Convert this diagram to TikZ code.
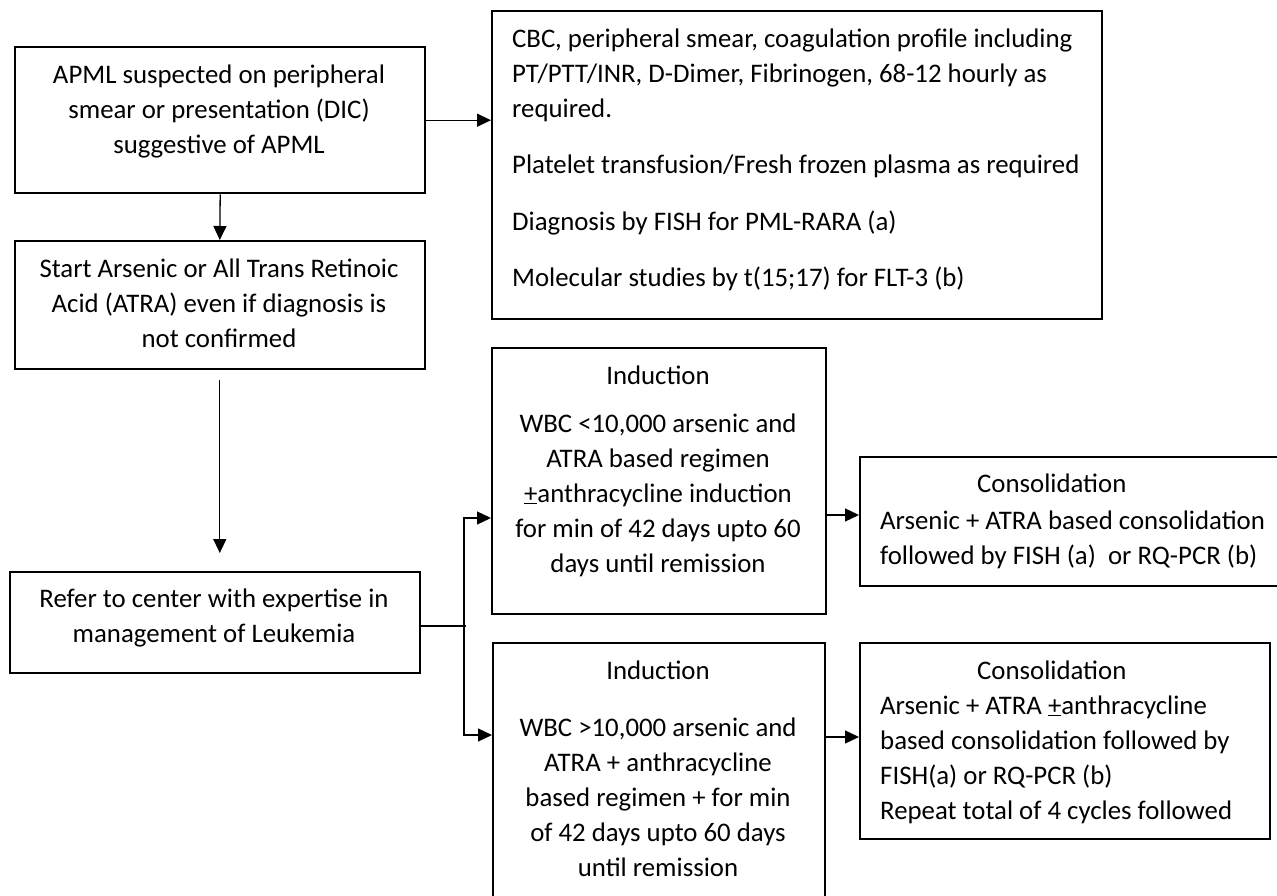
\documentclass[tikz,border=0pt]{standalone}
\usepackage{fontspec}
\setmainfont{Carlito}
\usetikzlibrary{arrows.meta}
\begin{document}
\begin{tikzpicture}[x=1pt,y=-1pt,
  box/.style={draw=black, line width=1.6pt, inner sep=0pt, anchor=north west},
  thickbox/.style={box, line width=2.4pt},
  txt/.style={inner sep=0pt, align=center, font=\fontsize{26.8}{35}\selectfont},
  ltxt/.style={inner sep=0pt, align=left, anchor=north west, font=\fontsize{26.8}{35}\selectfont},
  arr/.style={line width=1.3pt, -{Triangle[length=14pt,width=13pt]}},
  ln/.style={line width=1.3pt}]
\useasboundingbox (0,0) rectangle (1277,896);

% boxes
\node[thickbox, minimum width=410pt, minimum height=146pt] (a) at (14,46) {};
\node[box, minimum width=410pt, minimum height=128pt] (b) at (14,240) {};
\node[box, minimum width=610pt, minimum height=308pt] (d) at (491,10) {};
\node[box, line width=2pt, minimum width=410pt, minimum height=101pt] (r) at (9,571) {};
\node[box, line width=2pt, minimum width=334pt, minimum height=266pt] (i1) at (491,347) {};
\node[box, line width=2pt, minimum width=332pt, minimum height=262pt] (i2) at (492,642) {};
\node[box, line width=2pt, minimum width=425pt, minimum height=129pt] (c1) at (859,456) {};
\node[box, line width=2pt, minimum width=410pt, minimum height=196pt] (c2) at (859,642) {};

% texts
\node[txt] (ta) at (219,112) {\strut APML suspected on peripheral\\\strut smear or presentation (DIC)\\\strut suggestive of APML};
\node[txt] (tb) at (219,305) {\strut Start Arsenic or All Trans Retinoic\\\strut Acid (ATRA) even if diagnosis is\\\strut not confirmed};
\node[txt] (tr) at (214,618) {\strut Refer to center with expertise in\\\strut management of Leukemia};
\node[ltxt] (td) at (512,22.5) {\strut CBC, peripheral smear, coagulation profile including\\PT/PTT/INR, D-Dimer, Fibrinogen, 68-12 hourly as\\required.\\[21.5pt]Platelet transfusion/Fresh frozen plasma as required\\[21.5pt]Diagnosis by FISH for PML-RARA (a)\\[21.5pt]Molecular studies by t(15;17) for FLT-3 (b)};
\node[txt, anchor=north] (ti1) at (658,359.5) {\strut Induction\\[13pt]WBC <10,000 arsenic and\\ATRA based regimen\\\underline{+}anthracycline induction\\for min of 42 days upto 60\\days until remission};
\node[txt, anchor=north] (ti2) at (658,654.5) {\strut Induction\\[22pt]WBC >10,000 arsenic and\\ATRA + anthracycline\\based regimen + for min\\of 42 days upto 60 days\\until remission};
\node[ltxt] (tc1) at (880,467.5) {\strut\hspace*{97pt}Consolidation\\[2pt]Arsenic + ATRA based consolidation\\followed by FISH (a)\ \ or RQ-PCR (b)};
\node[ltxt] (tc2) at (880,654.5) {\strut\hspace*{97pt}Consolidation\\Arsenic + ATRA \underline{+}anthracycline\\based consolidation followed by\\FISH(a) or RQ-PCR (b)\\Repeat total of 4 cycles followed};

% connectors
\draw[arr] (a.east) -- (a.east -| d.west);
\draw[arr] (a.south) -- (b.north);
\draw[arr, shorten <=10pt, shorten >=18pt] (b.south) -- (b.south |- r.north);
\coordinate (j) at (464,626);
\coordinate (t1) at (464,518);
\coordinate (t2) at (464,735);
\draw[ln] ([xshift=-2pt]j -| r.east) -- ([xshift=2pt]j);
\draw[arr] (j) -- (t1) -- (t1 -| i1.west);
\draw[arr] (j) -- (t2) -- (t2 -| i2.west);
\coordinate (k1) at (842,515);
\coordinate (k2) at (842,737);
\draw[arr] (k1 -| i1.east) -- (k1 -| c1.west);
\draw[arr] (k2 -| i2.east) -- (k2 -| c2.west);
\end{tikzpicture}
\end{document}
